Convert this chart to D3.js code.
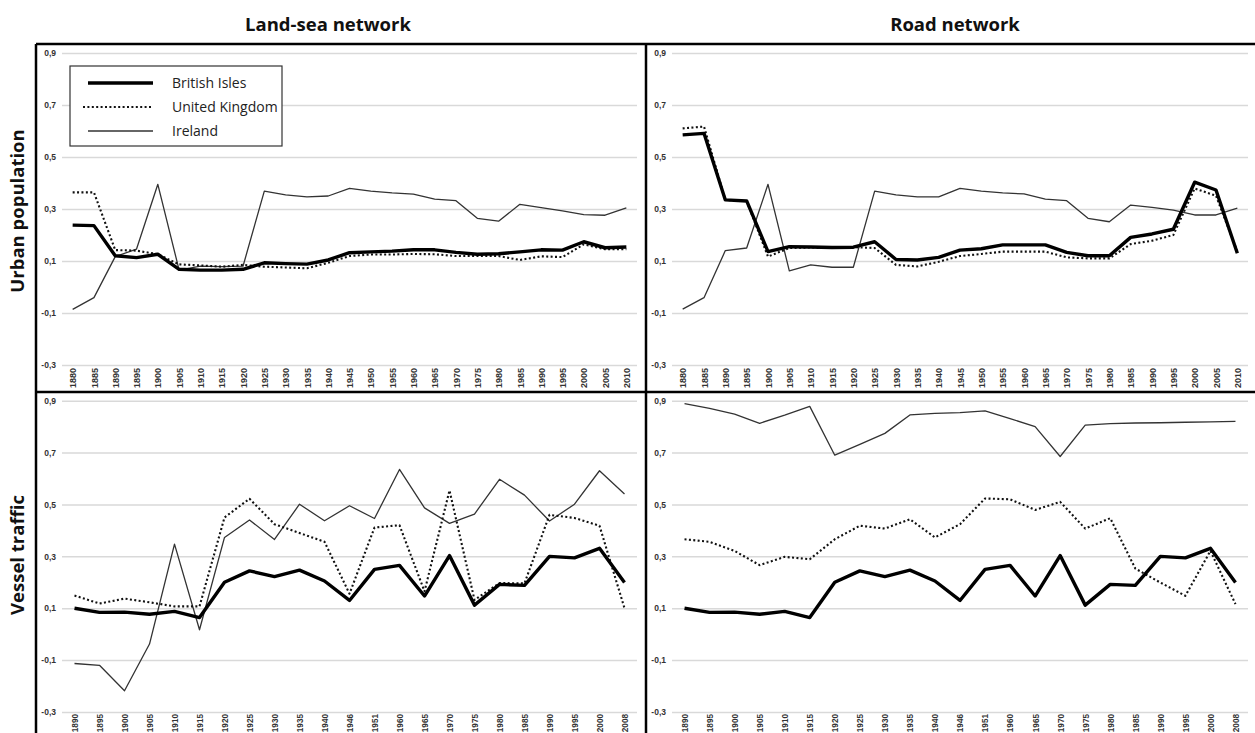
<!DOCTYPE html>
<html>
<head>
<meta charset="utf-8">
<script src="https://cdn.jsdelivr.net/npm/d3@7"></script>
<style>
  body { margin: 0; background: #fff; }
  svg { display: block; font-family: "Open Sans", "Noto Sans", sans-serif; }
</style>
</head>
<body>
<svg id="chart" width="1255" height="733"></svg>
<script>
// categories
const years1 = ["1880","1885","1890","1895","1900","1905","1910","1915","1920","1925","1930","1935","1940","1945","1950","1955","1960","1965","1970","1975","1980","1985","1990","1995","2000","2005","2010"];
const years2 = ["1890","1895","1900","1905","1910","1915","1920","1925","1930","1935","1940","1946","1951","1960","1965","1970","1975","1980","1985","1990","1995","2000","2008"];

// urban population, land-sea network
const urbanLandBI = [0.238,0.236,0.120,0.113,0.126,0.068,0.065,0.065,0.068,0.093,0.090,0.088,0.104,0.132,0.135,0.138,0.143,0.143,0.133,0.126,0.128,0.135,0.143,0.142,0.174,0.151,0.154];
const urbanLandUK = [0.364,0.364,0.142,0.140,0.126,0.087,0.083,0.078,0.085,0.078,0.075,0.072,0.093,0.119,0.125,0.125,0.127,0.126,0.119,0.119,0.119,0.104,0.118,0.115,0.164,0.145,0.145];
const urbanLandIE = [-0.086,-0.041,0.117,0.146,0.395,0.065,0.080,0.078,0.080,0.369,0.354,0.347,0.350,0.379,0.369,0.362,0.357,0.338,0.332,0.264,0.253,0.318,0.305,0.293,0.278,0.276,0.304];

// urban population, road network
const urbanRoadBI = [0.585,0.591,0.335,0.331,0.136,0.155,0.154,0.152,0.153,0.174,0.106,0.104,0.114,0.142,0.147,0.162,0.162,0.162,0.133,0.120,0.120,0.191,0.204,0.222,0.403,0.373,0.130];
const urbanRoadUK = [0.610,0.617,0.335,0.330,0.117,0.150,0.152,0.150,0.153,0.150,0.085,0.079,0.097,0.119,0.127,0.136,0.136,0.136,0.114,0.110,0.110,0.165,0.178,0.200,0.379,0.351,0.136];
const urbanRoadIE = [-0.085,-0.041,0.140,0.150,0.395,0.062,0.085,0.076,0.076,0.369,0.354,0.347,0.347,0.379,0.369,0.362,0.358,0.338,0.332,0.264,0.251,0.315,0.306,0.296,0.277,0.277,0.303];

// vessel traffic (British Isles is the same in both networks)
const vesselBI = [0.100,0.084,0.085,0.077,0.088,0.064,0.200,0.244,0.222,0.247,0.205,0.130,0.250,0.265,0.147,0.303,0.112,0.192,0.188,0.300,0.294,0.331,0.199];
const vesselLandUK = [0.149,0.118,0.137,0.123,0.107,0.107,0.450,0.522,0.424,0.390,0.356,0.156,0.411,0.420,0.165,0.554,0.132,0.197,0.196,0.460,0.448,0.418,0.100];
const vesselLandIE = [-0.113,-0.120,-0.218,-0.038,0.347,0.017,0.373,0.440,0.365,0.501,0.437,0.495,0.446,0.635,0.487,0.427,0.463,0.597,0.536,0.436,0.501,0.630,0.540];
const vesselRoadUK = [0.366,0.356,0.321,0.266,0.298,0.289,0.366,0.418,0.407,0.443,0.373,0.424,0.523,0.520,0.479,0.510,0.407,0.447,0.253,0.199,0.148,0.321,0.116];
const vesselRoadIE = [0.889,0.870,0.848,0.813,0.844,0.878,0.690,0.732,0.774,0.845,0.851,0.854,0.861,0.831,0.800,0.685,0.806,0.812,0.814,0.815,0.817,0.818,0.820];

const yTicks = [0.9, 0.7, 0.5, 0.3, 0.1, -0.1, -0.3];
const colTitles = ["Land-sea network", "Road network"];
const rowTitles = ["Urban population", "Vessel traffic"];
const legendLabels = ["British Isles", "United Kingdom", "Ireland"];

// series styles: thick, dotted, thin
const styles = [
  { width: 3.4, dash: null, color: "#000" },
  { width: 2.1, dash: "2,2.4", color: "#111" },
  { width: 1.3, dash: null, color: "#333" }
];

const svg = d3.select("#chart");
const locale = d3.formatLocale({ decimal: ",", thousands: ".", grouping: [3], currency: ["", ""], minus: "-" });
const fmt = locale.format(".1f");

const cols = [[62, 637], [672, 1248]];
const rows = [[365, 53], [712, 400.7]];
// year labels: the bottom row sits right at the page edge, so a touch smaller there
const xLabelSize = ["9px", "8.2px"];
const xLabelGap = [-3, -2];

function drawPanel(ci, ri, cats, series) {
  const x = d3.scalePoint().domain(cats).range(cols[ci]).padding(0.5);
  const y = d3.scaleLinear().domain([-0.3, 0.9]).range(rows[ri]);
  const g = svg.append("g");

  // grid + y labels
  const ya = g.append("g")
    .attr("transform", `translate(${cols[ci][0]},0)`)
    .call(d3.axisLeft(y).tickValues(yTicks).tickFormat(fmt)
      .tickSizeInner(-(cols[ci][1] - cols[ci][0])).tickSizeOuter(0).tickPadding(6));
  ya.select(".domain").remove();
  ya.selectAll(".tick line").attr("stroke", "#d9d9d9").attr("stroke-width", 1.5);
  ya.selectAll(".tick text")
    .attr("fill", "#333").style("font-size", "8.5px").style("font-weight", "bold");

  // x labels
  const xa = g.append("g")
    .attr("transform", `translate(0,${rows[ri][0]})`)
    .call(d3.axisBottom(x).tickSize(0));
  xa.select(".domain").remove();
  xa.selectAll(".tick text")
    .attr("transform", "rotate(-90)")
    .attr("x", xLabelGap[ri]).attr("y", 0).attr("dy", "0.35em")
    .attr("text-anchor", "end")
    .attr("fill", "#333").style("font-size", xLabelSize[ri]).style("font-weight", "bold");

  // lines, thin first so thick sits on top
  const line = d3.line().x((d, i) => x(cats[i])).y(d => y(d));
  [2, 1, 0].forEach(si => {
    const s = styles[si];
    g.append("path")
      .datum(series[si])
      .attr("d", line)
      .attr("fill", "none")
      .attr("stroke", s.color)
      .attr("stroke-width", s.width)
      .attr("stroke-dasharray", s.dash)
      .attr("stroke-linejoin", "round");
  });
}

drawPanel(0, 0, years1, [urbanLandBI, urbanLandUK, urbanLandIE]);
drawPanel(1, 0, years1, [urbanRoadBI, urbanRoadUK, urbanRoadIE]);
drawPanel(0, 1, years2, [vesselBI, vesselLandUK, vesselLandIE]);
drawPanel(1, 1, years2, [vesselBI, vesselRoadUK, vesselRoadIE]);

// panel frame
const frame = svg.append("g").attr("stroke", "#000").attr("stroke-width", 2.5);
frame.append("line").attr("x1", 36).attr("x2", 1255).attr("y1", 44).attr("y2", 44);
frame.append("line").attr("x1", 36).attr("x2", 1255).attr("y1", 392).attr("y2", 392);
frame.append("line").attr("x1", 36).attr("x2", 36).attr("y1", 44).attr("y2", 733);
frame.append("line").attr("x1", 646).attr("x2", 646).attr("y1", 44).attr("y2", 733);

// column and row titles
svg.selectAll(".coltitle").data(colTitles).enter().append("text")
  .attr("x", (d, i) => [328, 955][i]).attr("y", 31)
  .attr("text-anchor", "middle")
  .style("font-size", "18.5px").style("font-weight", "bold").attr("fill", "#111")
  .text(d => d);

svg.selectAll(".rowtitle").data(rowTitles).enter().append("text")
  .attr("transform", (d, i) => `translate(24,${[211, 555][i]}) rotate(-90)`)
  .attr("text-anchor", "middle")
  .style("font-size", "18.5px").style("font-weight", "bold").attr("fill", "#111")
  .text(d => d);

// legend
const lg = svg.append("g");
lg.append("rect").attr("x", 70).attr("y", 66).attr("width", 212).attr("height", 80)
  .attr("fill", "#fff").attr("stroke", "#333").attr("stroke-width", 1.2);
const rowsY = [83, 107, 131];
legendLabels.forEach((lab, i) => {
  const s = styles[i];
  lg.append("line").attr("x1", i === 1 ? 83 : 88).attr("x2", 153)
    .attr("y1", rowsY[i]).attr("y2", rowsY[i])
    .attr("stroke", s.color).attr("stroke-width", s.width).attr("stroke-dasharray", s.dash);
  lg.append("text").attr("x", 172).attr("y", rowsY[i]).attr("dy", "0.35em")
    .style("font-size", "14px").attr("fill", "#222").text(lab);
});
</script>
</body>
</html>
